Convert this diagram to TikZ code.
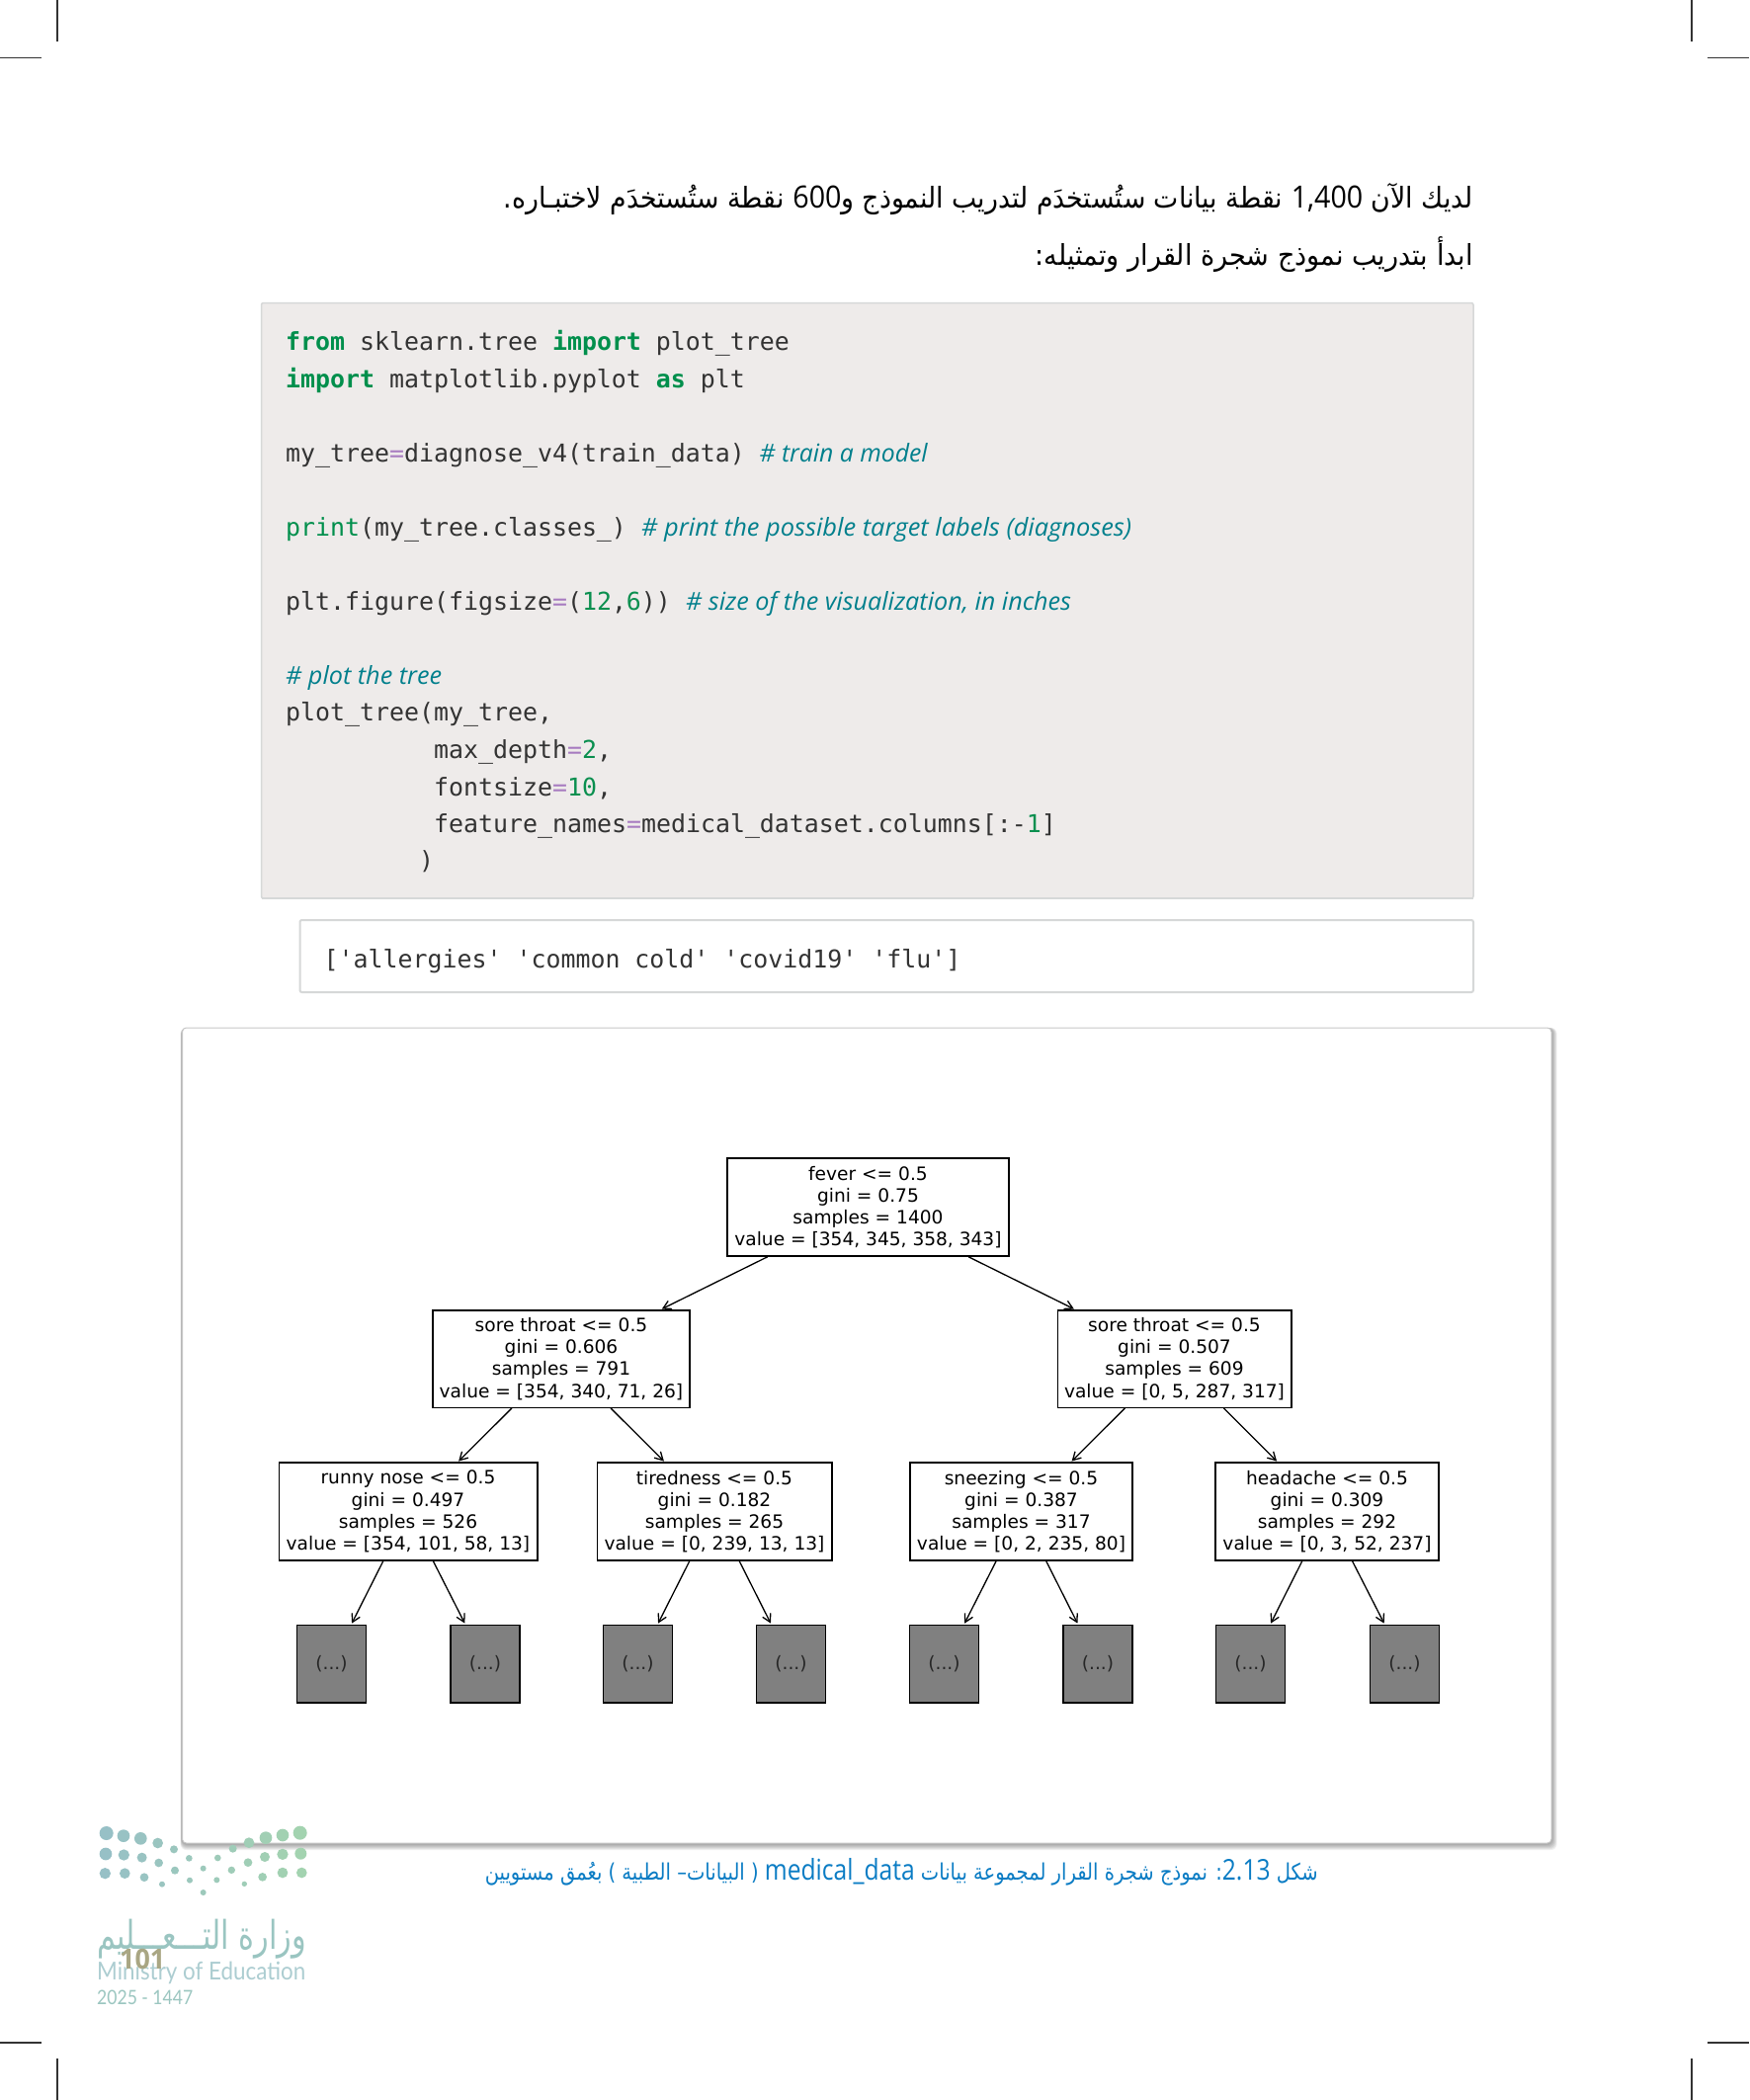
\documentclass[tikz,border=0pt]{standalone}
\usepackage{fontspec}
\usepackage{graphicx}
\usetikzlibrary{arrows.meta}
\TeXXeTstate=1
\setmainfont{DejaVu Sans}
\setmonofont{DejaVu Sans Mono}
\newfontfamily\arabfont[Script=Arabic]{DejaVu Sans}
\newfontfamily\cmtfont{Open Sans}
\newfontfamily\latfont{Open Sans}
\newfontfamily\logofont{Lato}
\definecolor{kwgreen}{HTML}{008F4C}
\definecolor{numgreen}{HTML}{0A8F4F}
\definecolor{eqpurple}{HTML}{A77BC0}
\definecolor{cmtteal}{HTML}{007F8C}
\definecolor{codebg}{HTML}{EEEBEA}
\definecolor{codeink}{HTML}{333333}
\definecolor{capblue}{HTML}{0A7CC4}
\definecolor{edgegrey}{HTML}{D6D8D8}
\definecolor{leafgrey}{HTML}{808080}
\definecolor{logoA}{HTML}{97C0C6}
\definecolor{logoB}{HTML}{A3D3B0}
\definecolor{pagenum}{HTML}{A9A683}
\newcommand{\fitw}[2]{\resizebox{#1pt}{\height}{#2}}
\newcommand{\kw}[1]{\textcolor{kwgreen}{\bfseries #1}}
\newcommand{\eqs}{\textcolor{eqpurple}{=}}
\newcommand{\num}[1]{\textcolor{numgreen}{#1}}
\newcommand{\latin}[2]{\beginL{\latfont\fontsize{#1}{#1}\selectfont #2}\endL{}}
\tikzset{
  codeline/.style={anchor=base west,inner sep=0pt,font=\fontsize{24.9}{30}\selectfont\ttfamily,text=codeink},
  cmtline/.style={anchor=base west,inner sep=0pt,font=\fontsize{25}{30}\selectfont\cmtfont\itshape,text=cmtteal},
  arabline/.style={anchor=base east,inner sep=0pt,font=\fontsize{29}{34}\selectfont\arabfont,text=black},
  treebox/.style={draw=black,line width=1.5pt,fill=white,inner sep=0pt,align=center,font=\fontsize{18.6}{22.2}\selectfont,text=black},
  leafbox/.style={draw=black,line width=1.5pt,fill=leafgrey,inner sep=0pt,minimum width=70pt,minimum height=78.5pt,font=\fontsize{18.6}{22.2}\selectfont,text=black!85},
  treearrow/.style={-{Straight Barb[length=8pt,width=9pt]},line width=1.3pt,black,shorten >=1pt},
  cropmark/.style={line width=1.4pt,color=black!80},
  logotext/.style={anchor=base west,inner sep=0pt},
}
\begin{document}
\begin{tikzpicture}[x=1pt,y=-1pt]
\useasboundingbox[fill=white] (0,0) rectangle (1770,2125);
% crop marks
\draw[cropmark] (58,0) -- (58,42);
\draw[cropmark] (0,58.5) -- (42,58.5);
\draw[cropmark] (1712,0) -- (1712,42);
\draw[cropmark] (1728,58.5) -- (1770,58.5);
\draw[cropmark] (58,2083) -- (58,2125);
\draw[cropmark] (0,2067) -- (42,2067);
\draw[cropmark] (1712,2083) -- (1712,2125);
\draw[cropmark] (1728,2067) -- (1770,2067);
% Arabic lines
\node[arabline] (intro1) at (1491,210) {\fitw{981}{\beginR لديك الآن \latin{31}{1,400} نقطة بيانات ستُستخدَم لتدريب النموذج و\latin{31}{600} نقطة ستُستخدَم لاختبـاره.\endR}};
\node[arabline] (intro2) at (1491,268) {\fitw{443}{\beginR ابدأ بتدريب نموذج شجرة القرار وتمثيله:\endR}};
% code box
\draw[edgegrey,line width=1.5pt,fill=codebg,rounded corners=2pt] (264.5,306.5) rectangle (1491,909);
\draw[edgegrey,line width=2pt] (265,909) -- (1491,909);
\node[codeline] (c1) at (289,354) {\kw{from} sklearn.tree \kw{import} plot\_tree};
\node[codeline] (c2) at (289,392) {\kw{import} matplotlib.pyplot \kw{as} plt};
\node[codeline] (c3) at (289,467) {my\_tree\eqs diagnose\_v4(train\_data)};
\node[cmtline] (m3) at (768.5,467) {\fitw{170}{\# train a model}};
\node[codeline] (c4) at (289,542) {\textcolor{kwgreen}{print}(my\_tree.classes\_)};
\node[cmtline] (m4) at (649,542) {\fitw{496}{\# print the possible target labels (diagnoses)}};
\node[codeline] (c5) at (289,617) {plt.figure(figsize\eqs(\num{12},\num{6}))};
\node[cmtline] (m5) at (694,617) {\fitw{390}{\# size of the visualization, in inches}};
\node[cmtline] (m6) at (289,692) {\fitw{158}{\# plot the tree}};
\node[codeline] (c6) at (289,729.5) {plot\_tree(my\_tree,};
\node[codeline] (c7) at (439,767.5) {max\_depth\eqs\num{2},};
\node[codeline] (c8) at (439,805) {fontsize\eqs\num{10},};
\node[codeline] (c9) at (439,842.5) {feature\_names\eqs medical\_dataset.columns[:-\num{1}]};
\node[codeline] (c10) at (424,879.4) {)};
% output box
\draw[edgegrey,line width=2pt,fill=white,rounded corners=2pt] (303.5,931) rectangle (1491,1004);
\node[codeline] (out) at (327.5,979) {['allergies' 'common cold' 'covid19' 'flu']};
% panel with shadow
\foreach \s in {7,6,...,1}{
  \fill[black,opacity=0.06,rounded corners=6pt] (184-\s*0.2,1040) rectangle (1570+\s*0.8,1865+\s);
}
\draw[black!22,line width=1pt,fill=white,rounded corners=4pt] (184.5,1040) rectangle (1570,1865);
% tree
\node[treebox,minimum width=285pt,minimum height=99pt] (root) at (878.5,1221.5) {fever <= 0.5\\gini = 0.75\\samples = 1400\\value = [354, 345, 358, 343]};
\node[treebox,minimum width=260pt,minimum height=98.5pt] (sl) at (568,1375) {sore throat <= 0.5\\gini = 0.606\\samples = 791\\value = [354, 340, 71, 26]};
\node[treebox,minimum width=236.5pt,minimum height=98.5pt] (sr) at (1188.5,1375) {sore throat <= 0.5\\gini = 0.507\\samples = 609\\value = [0, 5, 287, 317]};
\node[treebox,minimum width=261.5pt,minimum height=99pt] (rn) at (413,1529.5) {runny nose <= 0.5\\gini = 0.497\\samples = 526\\value = [354, 101, 58, 13]};
\node[treebox,minimum width=237.5pt,minimum height=99pt] (ti) at (723,1529.5) {tiredness <= 0.5\\gini = 0.182\\samples = 265\\value = [0, 239, 13, 13]};
\node[treebox,minimum width=225pt,minimum height=99pt] (sn) at (1033.5,1529.5) {sneezing <= 0.5\\gini = 0.387\\samples = 317\\value = [0, 2, 235, 80]};
\node[treebox,minimum width=226pt,minimum height=99pt] (he) at (1343,1529.5) {headache <= 0.5\\gini = 0.309\\samples = 292\\value = [0, 3, 52, 237]};
\node[leafbox] (l1) at (335.5,1683.5) {(...)};
\node[leafbox] (l2) at (491,1683.5) {(...)};
\node[leafbox] (l3) at (645.5,1683.5) {(...)};
\node[leafbox] (l4) at (800.5,1683.5) {(...)};
\node[leafbox] (l5) at (955.5,1683.5) {(...)};
\node[leafbox] (l6) at (1111,1683.5) {(...)};
\node[leafbox] (l7) at (1265.5,1683.5) {(...)};
\node[leafbox] (l8) at (1421.5,1683.5) {(...)};
\draw[treearrow] (root) -- (sl);
\draw[treearrow] (root) -- (sr);
\draw[treearrow] (sl) -- (rn);
\draw[treearrow] (sl) -- (ti);
\draw[treearrow] (sr) -- (sn);
\draw[treearrow] (sr) -- (he);
\draw[treearrow] (rn) -- (l1);
\draw[treearrow] (rn) -- (l2);
\draw[treearrow] (ti) -- (l3);
\draw[treearrow] (ti) -- (l4);
\draw[treearrow] (sn) -- (l5);
\draw[treearrow] (sn) -- (l6);
\draw[treearrow] (he) -- (l7);
\draw[treearrow] (he) -- (l8);
% caption
\node[anchor=base east,inner sep=0pt,text=capblue,font=\fontsize{23}{28}\selectfont\arabfont] (cap) at (1334,1902) {\fitw{843}{\beginR شكل \latin{29}{2.13}: نموذج شجرة القرار لمجموعة بيانات \latin{29}{medical\_data} ( البيانات– الطبية ) بعُمق مستويين\endR}};
% logo dots
\foreach \px/\py/\pr in {83/75/21,135/83/19,187/91/19,239/105/16,288/124/12,334/151/10,421/150/10,467/122/12,516/104/16,567/89/19,618/81/19,671/74/21,
 81/138/19,136/141/17,191/149/15,242/165/13,291/188/12,377/182/9,463/187/11,513/164/13,564/147/15,618/139/17,673/137/18,
 79/197/17,139/197/16,198/209/13,252/230/9,336/218/9,418/217/9,502/229/8,557/208/13,618/195/16,676/195/16,377/255/9}{
  \pgfmathtruncatemacro{\mixval}{(\px-79)/6}
  \fill[logoB!\mixval!logoA] ({80+\px/3},{1830+\py/3}) circle ({\pr/3});
}
% logo text
\node[anchor=base west,inner sep=0pt,text=logoA!75!logoB,font=\fontsize{40}{44}\selectfont\arabfont] (ar) at (98,1972) {\fitw{212}{\beginR وزارة التـــعـــليم\endR}};
\node[logotext,text=logoA!80!white,font=\fontsize{25}{28}\selectfont\logofont] (en) at (98,2003) {\fitw{211}{Ministry of Education}};
\node[logotext,text=logoA!70!logoB,font=\fontsize{20}{24}\selectfont\logofont] (yr) at (98,2028) {\fitw{97}{2025 - 1447}};
\node[logotext,text=pagenum,font=\fontsize{28}{30}\selectfont\bfseries\latfont] (pg) at (121,1992) {\fitw{46}{101}};
\end{tikzpicture}
\end{document}
